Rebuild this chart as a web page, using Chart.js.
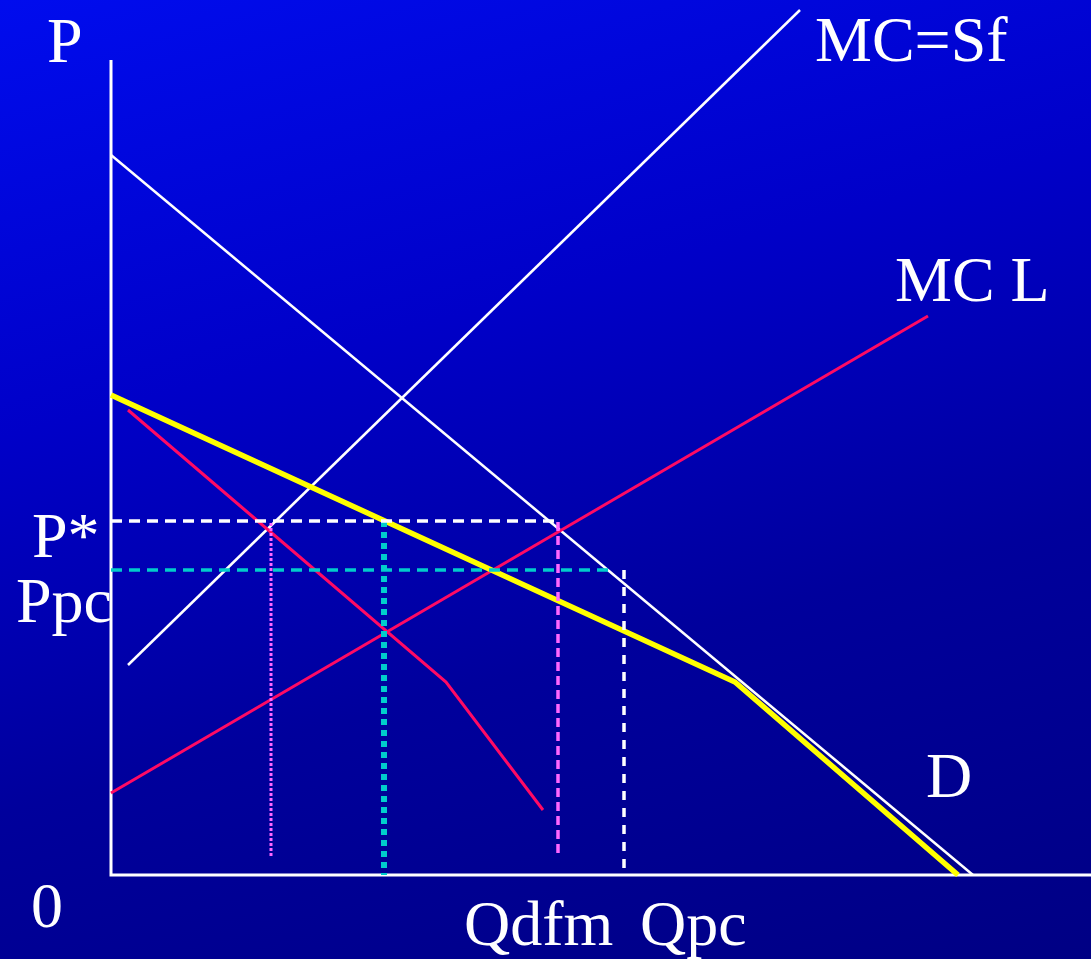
<!DOCTYPE html>
<html>
<head>
<meta charset="utf-8">
<script src="https://cdn.jsdelivr.net/npm/chart.js@4/dist/chart.umd.min.js"></script>
<style>
  html, body { margin: 0; padding: 0; }
  #wrap {
    position: relative; width: 1091px; height: 959px; overflow: hidden;
    background: linear-gradient(165deg, #000cee 0%, #0000c8 35%, #00009c 65%, #000084 100%);
  }
  #chart { position: absolute; left: 0; top: 0; }
  .lbl {
    position: absolute; color: #fff; font-family: "Liberation Serif", "Times New Roman", serif;
    font-size: 64px; line-height: 64px; white-space: nowrap;
  }
</style>
</head>
<body>
<div id="wrap">
  <canvas id="chart" width="1091" height="959"></canvas>
  <div class="lbl" style="left:47px; top:9px;">P</div>
  <div class="lbl" style="left:815px; top:8px;">MC=Sf</div>
  <div class="lbl" style="left:895px; top:248px;">MC L</div>
  <div class="lbl" style="left:32px; top:504px;">P*</div>
  <div class="lbl" style="left:16px; top:569px;">Ppc</div>
  <div class="lbl" style="left:926px; top:744px;">D</div>
  <div class="lbl" style="left:31px; top:874px;">0</div>
  <div class="lbl" style="left:464px; top:892px;">Qdfm</div>
  <div class="lbl" style="left:640px; top:892px;">Qpc</div>
</div>
<script>
// quantities (x) and prices (y), origin at the axes corner
var axisQ = [0, 0, 980];
var axisP = [815, 0, 0];

var demandQ = [0, 862];
var demandP = [720, 0];

var supplyFringeQ = [17, 689];   // MC=Sf
var supplyFringeP = [210, 865];

var mcLeaderQ = [0, 817];        // MC L
var mcLeaderP = [82, 559];

var residualQ = [0, 624, 847];   // dominant firm demand
var residualP = [480, 193, 0];

var mrQ = [17, 335, 432];
var mrP = [465, 193, 65];

var pStar = 354;
var pPc = 305;
var qFringe = 160;
var qDfm = 273;
var qTotal = 447;
var qPc = 513;

var pStarLineQ = [0, qTotal];
var pPcLineQ = [0, 500];

function pts(xs, ys) {
  var out = [];
  for (var i = 0; i < xs.length; i++) out.push({ x: xs[i], y: ys[i] });
  return out;
}

function line(data, color, width, dash, order) {
  return {
    data: data,
    borderColor: color,
    borderWidth: width,
    borderDash: dash || [],
    borderCapStyle: 'butt',
    borderJoinStyle: 'miter',
    pointRadius: 0,
    fill: false,
    tension: 0,
    order: order
  };
}

var datasets = [
  line(pts(pStarLineQ, [pStar, pStar]), '#ffffff', 3.5, [11, 7], 1),
  line(pts(pPcLineQ, [pPc, pPc]), '#00cccc', 3.5, [11, 7], 1),
  line(pts([qFringe, qFringe], [352, 17]), '#ff66ff', 3, [3, 2], 1),
  line(pts([qDfm, qDfm], [pStar, 0]), '#00cccc', 6, [6, 5], 1),
  line(pts([qTotal, qTotal], [353, 19]), '#ff66ff', 3.5, [9, 5], 1),
  line(pts([qPc, qPc], [pPc, 7]), '#ffffff', 3.5, [9, 8], 1),
  line(pts(residualQ, residualP), '#ffff00', 5.5, null, 2),
  line(pts(mrQ, mrP), '#ff0a64', 3, null, 3),
  line(pts(mcLeaderQ, mcLeaderP), '#ff0a64', 3, null, 3),
  line(pts(demandQ, demandP), '#ffffff', 2.5, null, 4),
  line(pts(supplyFringeQ, supplyFringeP), '#ffffff', 2.5, null, 4),
  line(pts(axisQ, axisP), '#ffffff', 3, null, 5)
];

var ctx = document.getElementById('chart').getContext('2d');
var myChart = new Chart(ctx, {
  type: 'line',
  data: { datasets: datasets },
  options: {
    responsive: false,
    animation: false,
    layout: { padding: 0 },
    plugins: { legend: { display: false }, tooltip: { enabled: false } },
    scales: {
      x: { type: 'linear', min: -111, max: 980, display: false },
      y: { type: 'linear', min: -84, max: 875, display: false }
    }
  }
});
</script>
</body>
</html>
